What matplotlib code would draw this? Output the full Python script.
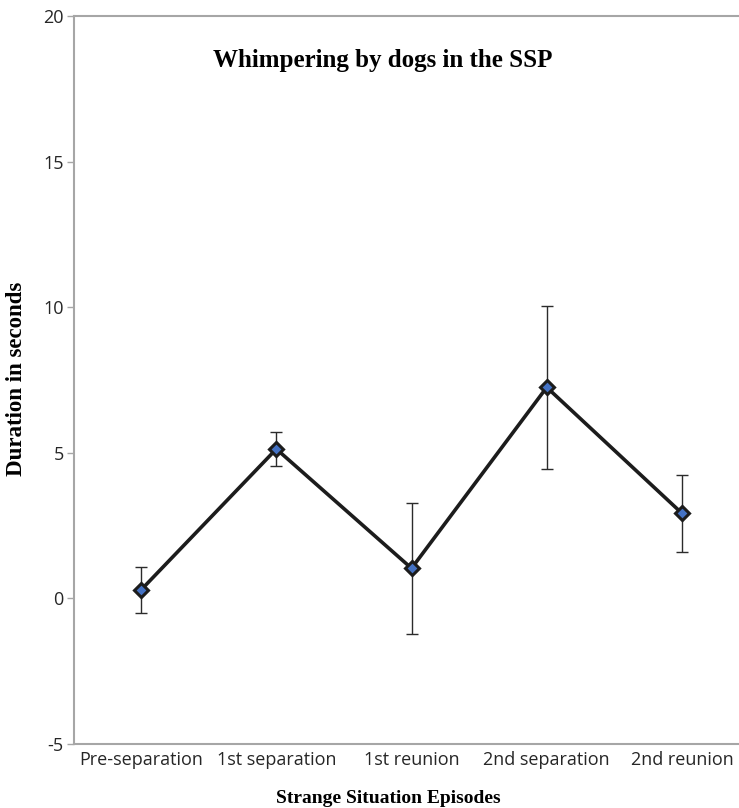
import matplotlib
matplotlib.use('Agg')
import matplotlib.pyplot as plt
import numpy as np

# Whimpering duration per SSP episode (mean +/- error)
episodes = ['Pre-separation', '1st separation', '1st reunion', '2nd separation', '2nd reunion']
means = [0.29, 5.13, 1.03, 7.25, 2.92]
errs = [0.80, 0.57, 2.26, 2.80, 1.33]
yticks = [-5, 0, 5, 10, 15, 20]

grey = '#a6a6a6'
tickfont = ['Open Sans', 'DejaVu Sans']
serif = ['Liberation Serif', 'DejaVu Serif']

W, H = 739, 808
fig = plt.figure(figsize=(W / 100, H / 100), dpi=100)
# right edge of the plot area runs past the image, as in the cropped original
ax = fig.add_axes([0.0995, 0.0795, 0.9148, 0.9003])

x = np.arange(len(episodes))
ax.errorbar(x, means, yerr=errs, fmt='none', ecolor='#2b2b2b', elinewidth=1.0,
            capsize=4, capthick=1.0, zorder=2)
ax.plot(x, means, color='#1c1c1c', lw=2.6, marker='D', ms=7.5,
        mfc='#4472c4', mec='#1c1c1c', mew=2.2, zorder=3)

ax.set_xlim(-0.5, len(episodes) - 0.5)
ax.set_ylim(-5, 20)
ax.set_yticks(yticks)
ax.set_xticks(x)
ax.set_xticklabels(episodes, family=tickfont, fontsize=13, color='#262626')
ax.set_yticklabels([str(v) for v in yticks], family=tickfont, fontsize=13, color='#262626')

for s in ['left', 'bottom', 'top']:
    ax.spines[s].set_color(grey)
    ax.spines[s].set_linewidth(1.5)
ax.spines['right'].set_visible(False)
ax.tick_params(axis='y', direction='out', length=5, width=1, color=grey, pad=2)
ax.tick_params(axis='x', length=0, pad=5)

fig.text(17 / W, 1 - 379 / H, 'Duration in seconds', rotation=90, ha='center', va='center',
         family=serif, fontweight='bold', fontsize=16.5)
fig.text(388 / W, 1 - 803 / H, 'Strange Situation Episodes', ha='center', va='baseline',
         family=serif, fontweight='bold', fontsize=14)
fig.text(383 / W, 1 - 67 / H, 'Whimpering by dogs in the SSP', ha='center', va='baseline',
         family=serif, fontweight='bold', fontsize=18)

fig.savefig('out.png', dpi=100)
